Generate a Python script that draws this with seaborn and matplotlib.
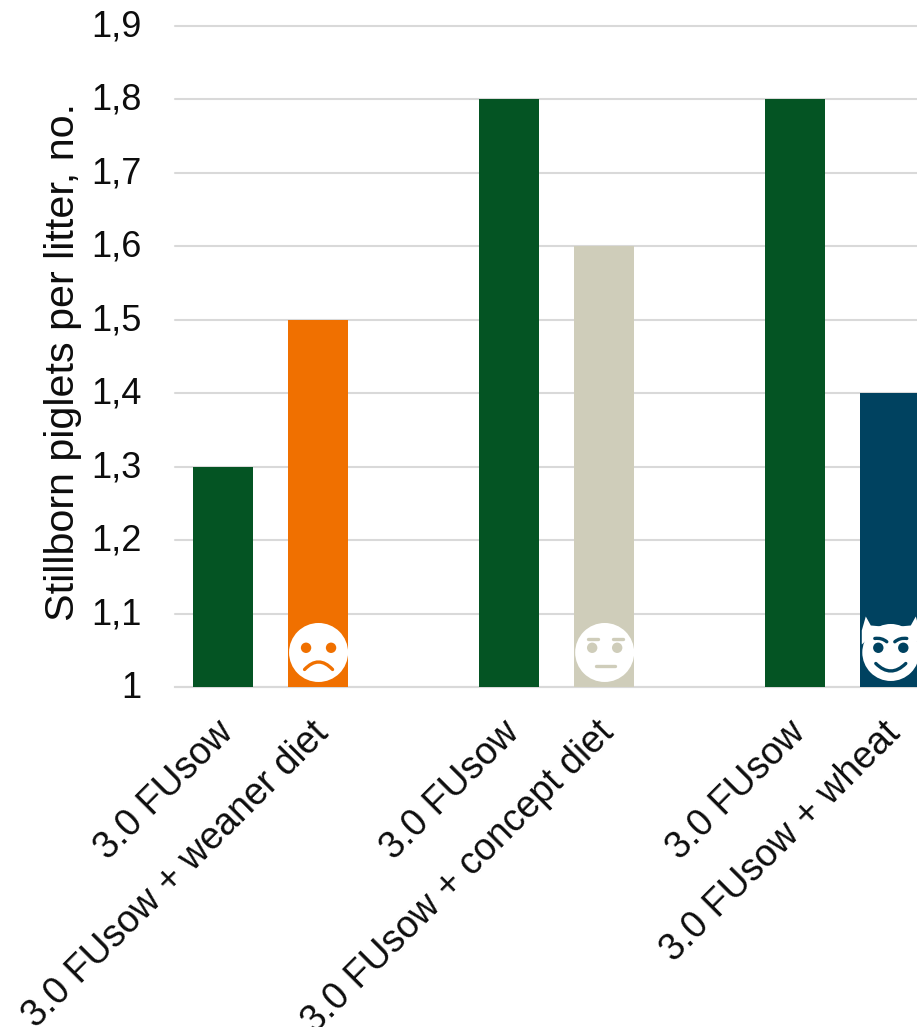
import numpy as np
import pandas as pd
import seaborn as sns
import matplotlib.pyplot as plt
from matplotlib.patches import Circle, Polygon, PathPatch
from matplotlib.path import Path
from matplotlib.transforms import Affine2D

# empty slots keep the gaps between the three groups
labels = ["3.0 FUsow", "3.0 FUsow + weaner diet", "",
          "3.0 FUsow", "3.0 FUsow + concept diet", "",
          "3.0 FUsow", "3.0 FUsow + wheat"]
stillborn = [1.3, 1.5, np.nan, 1.8, 1.6, np.nan, 1.8, 1.4]
colors = ["#045423", "#F07000", "#FFFFFF", "#045423", "#CFCDBA", "#FFFFFF", "#045423", "#004260"]
y_ticks = [1, 1.1, 1.2, 1.3, 1.4, 1.5, 1.6, 1.7, 1.8, 1.9]
y_labels = ["1", "1,1", "1,2", "1,3", "1,4", "1,5", "1,6", "1,7", "1,8", "1,9"]
faces = {1: "sad", 4: "neutral", 7: "devil"}

sns.set_style("white")
plt.rcParams["font.family"] = ["Liberation Sans", "DejaVu Sans"]

W, H = 917, 1027
fig = plt.figure(figsize=(W / 100, H / 100), dpi=100)
ax = fig.add_axes([175 / W, 1 - 687 / H, (W - 175) / W, (687 - 26) / H])

df = pd.DataFrame({"slot": range(len(labels)), "value": stillborn})
sns.barplot(data=df, x="slot", y="value", hue="slot", palette=colors, legend=False,
            width=0.63, ax=ax, zorder=3, saturation=1, linewidth=0)

ax.set_xlim(-0.5, (W - 223) / 95.33)
ax.set_ylim(1, 1.9)
ax.set_yticks(y_ticks)
ax.set_yticklabels(y_labels, fontsize=26, color="#0D0D0D")
ax.set_xticks(range(len(labels)))
ax.set_xticklabels(labels, fontsize=27, rotation=45, ha="right", rotation_mode="anchor", color="#0D0D0D")
ax.set_xlabel("")
ax.set_ylabel("Stillborn piglets per litter, no.", fontsize=29.7, color="#0D0D0D")
ax.yaxis.set_label_coords((82 - 175) / (W - 175), (687 - 362) / (687 - 26))
ax.tick_params(axis="y", length=0, pad=24)
ax.tick_params(axis="x", length=0, pad=20)
ax.grid(axis="y", color="#D9D9D9", linewidth=1.5, zorder=0, clip_on=False)
ax.set_axisbelow(True)
for side in ["top", "right", "left"]:
    ax.spines[side].set_visible(False)
ax.spines["bottom"].set_color("#D9D9D9")
ax.spines["bottom"].set_linewidth(1.5)

# the rotated labels sit a bit left of the bar centres
for lab in ax.get_xticklabels():
    lab.set_transform(lab.get_transform() + Affine2D().translate(-8, 0))
# digits centred on the grid lines, the comma hangs below
for lab in ax.get_yticklabels():
    lab.set_transform(lab.get_transform() + Affine2D().translate(0, 3))


def draw_face(slot, kind, color):
    # face is drawn in pixels around the bar centre, y up
    cx, cy = ax.transData.transform((slot, 1.047))
    tr = Affine2D().translate(cx + 0.5, cy)

    def add(p):
        p.set_transform(tr)
        p.set_clip_path(ax.patch)
        p.set_zorder(5)
        ax.add_patch(p)

    if kind == "devil":
        add(Polygon([(-29, 8), (-29, 22), (-25, 36), (-20, 27), (-9, 26)], closed=True, fc="white", ec="none"))
        add(Polygon([(29, 8), (29, 22), (25, 36), (20, 27), (9, 26)], closed=True, fc="white", ec="none"))
    add(Circle((0, 0), 29.5 if kind != "devil" else 28.5, fc="white", ec="none"))
    add(Circle((-12.5, 4.7), 5.2, fc=color, ec="none"))
    add(Circle((12.5, 4.7), 5.2, fc=color, ec="none"))

    def stroke(pts, codes=None):
        add(PathPatch(Path(pts, codes), fc="none", ec=color, lw=2.4, capstyle="round"))

    curve = [Path.MOVETO, Path.CURVE3, Path.CURVE3]
    if kind == "sad":
        stroke([(-14, -17), (0, -2), (14, -17)], curve)
    elif kind == "neutral":
        stroke([(-9, -13.4), (10, -13.4)])
        stroke([(-17, 13.6), (-7, 13.6)])
        stroke([(8, 13.6), (18, 13.6)])
    else:
        stroke([(-15, -11), (0, -26), (15, -11)], curve)
        stroke([(-16, 14), (-9, 15), (-4, 10.7)], curve)
        stroke([(16, 14), (9, 15), (4, 10.7)], curve)


for slot, kind in faces.items():
    draw_face(slot, kind, colors[slot])

fig.savefig("out.png", dpi=100)
